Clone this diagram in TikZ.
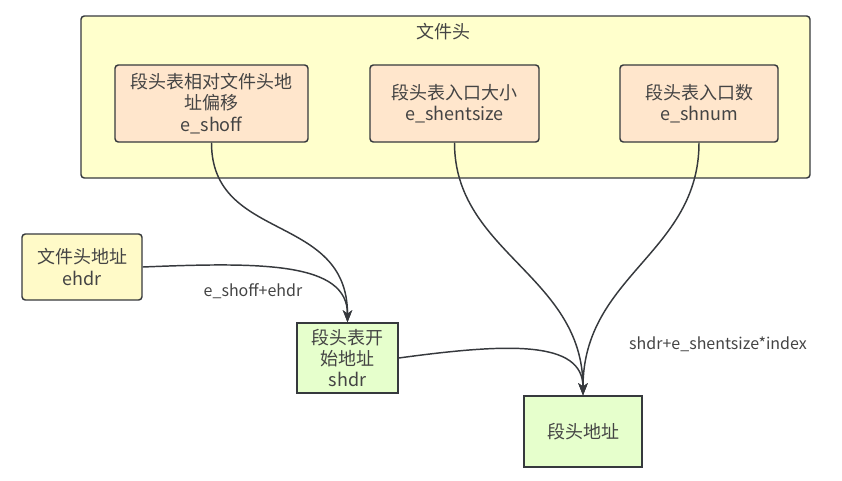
\documentclass[tikz,border=0pt]{standalone}
\usepackage{fontspec}
\setmainfont{Noto Sans CJK SC}
\usepackage{tikz}
\usetikzlibrary{arrows.meta}
\usepackage{xcolor}
\definecolor{hdryellow}{RGB}{255,255,204}
\definecolor{adryellow}{RGB}{255,250,200}
\definecolor{fieldpeach}{RGB}{255,230,204}
\definecolor{addrgreen}{RGB}{230,255,204}
\definecolor{edgegray}{RGB}{54,57,61}
\definecolor{txtgray}{RGB}{68,68,68}

\begin{document}
\begin{tikzpicture}[x=0.75pt,y=-0.75pt,>={Stealth[length=9pt,width=7pt,inset=2.5pt]},
    every node/.style={text=txtgray,font=\fontsize{13.5}{16}\selectfont,align=center,inner sep=0pt},
    box/.style={draw=edgegray,line width=1.1pt},
    field/.style={box,fill=fieldpeach,rounded corners=2.5pt,minimum height=57.75pt},
    addr/.style={box,fill=addrgreen},
    link/.style={->,draw=edgegray,line width=1.1pt},
    lbl/.style={font=\fontsize{12}{14}\selectfont}]
    % Canvas
    \useasboundingbox (0,0) rectangle (842,480);

    % File header container
    \node[box,fill=hdryellow,rounded corners=2.5pt,minimum width=546.75pt,minimum height=121.5pt] (hdr) at (445.5,97) {};
    \node (hdrtitle) at (443,32) {文件头};

    % Header fields
    \node[field,minimum width=144.75pt] (shoff) at (211.5,103.5) {段头表相对文件头地\\址偏移\\e\_shoff};
    \node[field,minimum width=126.75pt] (shentsize) at (454.5,103.5) {段头表入口大小\\e\_shentsize};
    \node[field,minimum width=118.5pt] (shnum) at (699,103.5) {段头表入口数\\e\_shnum};

    % Addresses
    \node[box,fill=adryellow,rounded corners=2.5pt,minimum width=90pt,minimum height=49.5pt] (ehdr) at (82,267) {文件头地址\\ehdr};
    \node[addr,minimum width=75.75pt,minimum height=52.5pt] (shdr) at (347.5,358) {段头表开\\始地址\\shdr};
    \node[addr,minimum width=88.5pt,minimum height=53.25pt] (seg) at (583,431.5) {段头地址};

    % Connectors
    \draw[link] (shoff.south) .. controls +(0,100) and +(0,-110) .. (shdr.north);
    \draw[link] (ehdr.east) .. controls +(120,-5) and +(0,-60) .. (shdr.north);
    \draw[link] (shentsize.south) .. controls +(0,110) and +(0,-120) .. (seg.north);
    \draw[link] (shnum.south) .. controls +(0,110) and +(0,-120) .. (seg.north);
    \draw[link] (shdr.east) .. controls +(110,-15) and +(0,-55) .. (seg.north);

    % Labels
    \node[lbl] (sumlbl) at (253,291) {e\_shoff+ehdr};
    \node[lbl] (idxlbl) at (718,344) {shdr+e\_shentsize*index};
\end{tikzpicture}
\end{document}
